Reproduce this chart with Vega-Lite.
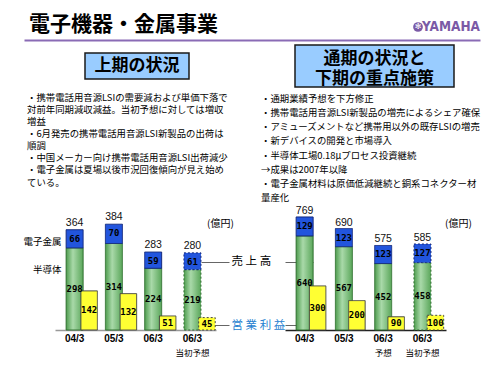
{
  "$schema": "https://vega.github.io/schema/vega-lite/v6.json",
  "background": "white",
  "padding": {"left": 22, "top": 0, "right": 0, "bottom": 0},
  "spacing": 0,
  "config": {
    "view": {"stroke": null},
    "text": {"font": "Noto Sans CJK JP"},
    "axis": {"labelFont": "Noto Sans CJK JP", "grid": false}
  },
  "datasets": {
    "h1": [
      {"period": "04/3", "kind": "実績", "semi": 298, "metal": 66, "total": 364, "profit": 142},
      {"period": "05/3", "kind": "実績", "semi": 314, "metal": 70, "total": 384, "profit": 132},
      {"period": "06/3", "kind": "実績", "semi": 224, "metal": 59, "total": 283, "profit": 51},
      {"period": "06/3当初予想", "kind": "当初予想", "semi": 219, "metal": 61, "total": 280, "profit": 45}
    ],
    "fy": [
      {"period": "04/3", "kind": "実績", "semi": 640, "metal": 129, "total": 769, "profit": 300},
      {"period": "05/3", "kind": "実績", "semi": 567, "metal": 123, "total": 690, "profit": 200},
      {"period": "06/3予想", "kind": "予想", "semi": 452, "metal": 123, "total": 575, "profit": 90},
      {"period": "06/3当初予想", "kind": "当初予想", "semi": 458, "metal": 127, "total": 585, "profit": 100}
    ],
    "bullets": [
      {"block": "L", "line": 1, "text": "・携帯電話用音源LSIの需要減および単価下落で"},
      {"block": "L", "line": 2, "text": "　対前年同期減収減益。当初予想に対しては増収"},
      {"block": "L", "line": 3, "text": "　増益"},
      {"block": "L", "line": 4, "text": "・6月発売の携帯電話用音源LSI新製品の出荷は"},
      {"block": "L", "line": 5, "text": "　順調"},
      {"block": "L", "line": 6, "text": "・中国メーカー向け携帯電話用音源LSI出荷減少"},
      {"block": "L", "line": 7, "text": "・電子金属は夏場以後市況回復傾向が見え始め"},
      {"block": "L", "line": 8, "text": "　ている。"},
      {"block": "R", "line": 1, "text": "・通期業績予想を下方修正"},
      {"block": "R", "line": 2, "text": "・携帯電話用音源LSI新製品の増売によるシェア確保"},
      {"block": "R", "line": 3, "text": "・アミューズメントなど携帯用以外の既存LSIの増売"},
      {"block": "R", "line": 4, "text": "・新デバイスの開発と市場導入"},
      {"block": "R", "line": 5, "text": "・半導体工場0.18μプロセス投資継続"},
      {"block": "R", "line": 6, "text": "　→成果は2007年以降"},
      {"block": "R", "line": 7, "text": "・電子金属材料は原価低減継続と銅系コネクター材"},
      {"block": "R", "line": 8, "text": "　量産化"}
    ]
  },
  "vconcat": [
    {
      "width": 456,
      "height": 40,
      "layer": [
        {
          "data": {"values": [{"name": "電子機器・金属事業"}]},
          "mark": {"type": "text", "align": "left", "baseline": "middle", "dx": 5, "dy": 5, "fontSize": 21, "fontWeight": "bold", "font": "Noto Sans CJK JP", "color": "#000"},
          "encoding": {
            "x": {"datum": 0, "type": "quantitative", "scale": {"domain": [0, 1], "nice": false, "zero": false},
                  "axis": {"orient": "bottom", "title": null, "labels": false, "ticks": false, "grid": false, "domain": true, "domainColor": "#8a6bb5", "domainWidth": 2}},
            "text": {"field": "name"}
          }
        },
        {
          "data": {"values": [{"name": "YAMAHA"}]},
          "mark": {"type": "text", "align": "right", "baseline": "middle", "dy": 7, "fontSize": 13.5, "fontWeight": "bold", "font": "Liberation Sans Narrow, DejaVu Sans Condensed, sans-serif", "color": "#7b5aa6"},
          "encoding": {"x": {"datum": 1, "type": "quantitative"}, "text": {"field": "name"}}
        },
        {
          "data": {"values": [{"name": "logo"}]},
          "mark": {"type": "point", "shape": "circle", "filled": true, "size": 95, "color": "#7b5aa6", "opacity": 1, "xOffset": -62, "yOffset": 7},
          "encoding": {"x": {"datum": 1, "type": "quantitative"}}
        },
        {
          "data": {"values": [{"name": "✻"}]},
          "mark": {"type": "text", "align": "center", "baseline": "middle", "dx": -62, "dy": 7, "fontSize": 8, "font": "DejaVu Sans", "color": "#ffffff"},
          "encoding": {"x": {"datum": 1, "type": "quantitative"}, "text": {"field": "name"}}
        }
      ]
    },
    {
      "hconcat": [
        {"width": 61, "height": 52, "data": {"values": []}, "mark": "point"},
        {
          "width": 104, "height": 26,
          "view": {"fill": "#99ccff", "stroke": "#1a1a1a", "strokeWidth": 1.5},
          "data": {"values": [{"t": "上期の状況"}]},
          "mark": {"type": "text", "align": "center", "baseline": "middle", "fontSize": 17, "fontWeight": "bold", "font": "Noto Sans CJK JP", "color": "#000"},
          "encoding": {"text": {"field": "t"}}
        },
        {"width": 106, "height": 26, "data": {"values": []}, "mark": "point"},
        {
          "width": 159, "height": 42,
          "view": {"fill": "#99ccff", "stroke": "#1a1a1a", "strokeWidth": 1.5},
          "data": {"values": [{"t": "通期の状況と\n下期の重点施策"}]},
          "mark": {"type": "text", "align": "center", "baseline": "middle", "dy": -7, "fontSize": 17, "fontWeight": "bold", "font": "Noto Sans CJK JP", "color": "#000", "lineBreak": "\n", "lineHeight": 20},
          "encoding": {"text": {"field": "t"}}
        }
      ],
      "spacing": 0,
      "bounds": "flush",
      "center": true
    },
    {
      "width": 234,
      "height": 109,
      "data": {"name": "bullets"},
      "layer": [
        {
          "transform": [{"filter": "datum.block === 'L'"}],
          "mark": {"type": "text", "align": "left", "baseline": "middle", "dx": 3, "fontSize": 9.4, "font": "Noto Sans CJK JP", "color": "#000"},
          "encoding": {
            "x": {"field": "block", "type": "nominal", "scale": {"type": "point", "domain": ["L", "R"], "padding": 0}, "axis": null},
            "y": {"field": "line", "type": "ordinal", "scale": {"type": "point", "padding": 1.096, "align": 0.154}, "axis": null},
            "text": {"field": "text"}
          }
        },
        {
          "transform": [{"filter": "datum.block === 'R'"}],
          "mark": {"type": "text", "align": "left", "baseline": "middle", "dx": 3, "fontSize": 9.4, "font": "Noto Sans CJK JP", "color": "#000"},
          "encoding": {
            "x": {"field": "block", "type": "nominal", "scale": {"type": "point", "domain": ["L", "R"], "padding": 0}, "axis": null},
            "y": {"field": "line", "type": "ordinal", "scale": {"type": "point", "padding": 0.355, "align": 0.5}, "axis": null},
            "text": {"field": "text"}
          }
        }
      ],
      "resolve": {"scale": {"y": "independent"}}
    },
    {
      "hconcat": [
        {"width": 31, "height": 127, "data": {"values": []}, "mark": "point"},
        {
          "width": 161, "height": 127,
          "data": {"name": "h1"},
          "layer": [
            {
              "layer": [
                {
                  "mark": {"type": "bar", "width": 17, "stroke": "#2f6f2f", "strokeWidth": 1,
                           "fill": {"gradient": "linear", "x1": 0, "y1": 0, "x2": 1, "y2": 0, "stops": [{"offset": 0, "color": "#4e9c4e"}, {"offset": 0.4, "color": "#a9d9a9"}, {"offset": 1, "color": "#5aa65a"}]}},
                  "encoding": {
                    "x": {"field": "period", "type": "nominal", "sort": null,
                          "scale": {"domain": ["04/3", "05/3", "06/3", "06/3当初予想"], "paddingInner": 0, "paddingOuter": 0.05, "align": 0},
                          "axis": {"orient": "bottom", "title": null, "labelExpr": "substring(datum.label, 0, 4)", "labelFont": "Liberation Sans", "labelFontWeight": "bold", "labelFontSize": 10, "labelColor": "#000", "labelPadding": 3, "labelAngle": 0, "ticks": false, "domain": true, "domainColor": "#999", "domainWidth": 1.5, "grid": false}},
                    "y": {"field": "semi", "type": "quantitative", "scale": {"domain": [0, 461], "nice": false},
                          "axis": {"orient": "left", "title": null, "values": [323, 221], "labelExpr": "datum.value > 300 ? '電子金属' : '半導体'", "ticks": false, "domain": false, "grid": false, "labelPadding": -6, "labelFont": "Noto Sans CJK JP", "labelFontSize": 9.5, "labelColor": "#000"}},
                    "strokeDash": {"condition": {"test": "datum.kind === '当初予想'", "value": [2, 2]}, "value": [1, 0]}
                  }
                },
                {
                  "mark": {"type": "bar", "width": 17, "fill": "#2255dd", "stroke": "#14287a", "strokeWidth": 1},
                  "encoding": {
                    "x": {"field": "period", "type": "nominal", "sort": null},
                    "y": {"field": "total", "type": "quantitative", "scale": {"domain": [0, 461], "nice": false}},
                    "y2": {"field": "semi"},
                    "strokeDash": {"condition": {"test": "datum.kind === '当初予想'", "value": [2, 2]}, "value": [1, 0]}
                  }
                },
                {
                  "mark": {"type": "text", "baseline": "bottom", "dy": -2, "font": "Liberation Sans", "fontSize": 10.5, "color": "#111"},
                  "encoding": {
                    "x": {"field": "period", "type": "nominal", "sort": null},
                    "y": {"field": "total", "type": "quantitative"},
                    "text": {"field": "total"}
                  }
                },
                {
                  "mark": {"type": "text", "baseline": "middle", "dy": 9, "font": "DejaVu Sans Mono", "fontWeight": "bold", "fontSize": 9, "color": "#000"},
                  "encoding": {
                    "x": {"field": "period", "type": "nominal", "sort": null},
                    "y": {"field": "total", "type": "quantitative"},
                    "text": {"field": "metal"}
                  }
                },
                {
                  "data": {"values": [{"unit": "(億円)"}]},
                  "mark": {"type": "text", "baseline": "middle", "align": "center", "dx": 28, "font": "Noto Sans CJK JP", "fontSize": 10, "color": "#000"},
                  "encoding": {
                    "x": {"datum": "06/3当初予想", "type": "nominal"},
                    "y": {"datum": 385, "type": "quantitative"},
                    "text": {"field": "unit"}
                  }
                }
              ]
            },
            {
              "layer": [
                {
                  "mark": {"type": "bar", "width": 16.5, "xOffset": 14.5, "fill": "#ffff33", "stroke": "#444", "strokeWidth": 1},
                  "encoding": {
                    "x": {"field": "period", "type": "nominal", "sort": null,
                          "axis": {"orient": "bottom", "title": null, "labelExpr": "substring(datum.label, 4)", "labelFont": "Noto Sans CJK JP", "labelFontSize": 8.5, "labelColor": "#000", "labelPadding": 18, "labelAngle": 0, "ticks": false, "domain": false, "grid": false}},
                    "y": {"field": "profit", "type": "quantitative", "scale": {"domain": [0, 461], "nice": false},
                          "axis": {"orient": "right", "title": null, "values": [247, 18], "offset": -15, "domain": false, "ticks": true, "tickSize": 28, "tickColor": "#666", "tickWidth": 1, "grid": false, "labelPadding": 2,
                                   "labelExpr": "datum.value > 100 ? '売 上 高' : '営 業 利 益'",
                                   "labelColor": {"condition": {"test": "datum.value < 100", "value": "#1f7fd0"}, "value": "#000"},
                                   "labelFont": "Noto Sans CJK JP", "labelFontSize": 11.5}},
                    "strokeDash": {"condition": {"test": "datum.kind === '当初予想'", "value": [2, 2]}, "value": [1, 0]}
                  }
                }
              ]
            },
            {
              "layer": [
                {
                  "mark": {"type": "text", "baseline": "middle", "font": "DejaVu Sans Mono", "fontWeight": "bold", "fontSize": 9, "color": "#000"},
                  "encoding": {
                    "x": {"field": "period", "type": "nominal", "sort": null, "axis": null},
                    "y": {"field": "semi", "type": "quantitative", "scale": {"domain": [0, 922], "nice": false}, "axis": null},
                    "text": {"field": "semi"}
                  }
                },
                {
                  "mark": {"type": "text", "baseline": "middle", "dx": 14.5, "font": "DejaVu Sans Mono", "fontWeight": "bold", "fontSize": 9, "color": "#000"},
                  "encoding": {
                    "x": {"field": "period", "type": "nominal", "sort": null},
                    "y": {"field": "profit", "type": "quantitative"},
                    "text": {"field": "profit"}
                  }
                }
              ]
            }
          ],
          "resolve": {"scale": {"y": "independent"}, "axis": {"x": "independent", "y": "independent"}}
        },
        {"width": 69, "height": 127, "data": {"values": []}, "mark": "point"},
        {
          "width": 161, "height": 127,
          "data": {"name": "fy"},
          "layer": [
            {
              "layer": [
                {
                  "mark": {"type": "bar", "width": 17, "stroke": "#2f6f2f", "strokeWidth": 1,
                           "fill": {"gradient": "linear", "x1": 0, "y1": 0, "x2": 1, "y2": 0, "stops": [{"offset": 0, "color": "#4e9c4e"}, {"offset": 0.4, "color": "#a9d9a9"}, {"offset": 1, "color": "#5aa65a"}]}},
                  "encoding": {
                    "x": {"field": "period", "type": "nominal", "sort": null,
                          "scale": {"domain": ["04/3", "05/3", "06/3予想", "06/3当初予想"], "paddingInner": 0, "paddingOuter": 0.05, "align": 0},
                          "axis": {"orient": "bottom", "title": null, "labelExpr": "substring(datum.label, 0, 4)", "labelFont": "Liberation Sans", "labelFontWeight": "bold", "labelFontSize": 10, "labelColor": "#000", "labelPadding": 3, "labelAngle": 0, "ticks": false, "domain": true, "domainColor": "#222", "domainWidth": 1.5, "grid": false}},
                    "y": {"field": "semi", "type": "quantitative", "scale": {"domain": [0, 864], "nice": false},
                          "axis": {"orient": "left", "title": null, "values": [463, 34], "labels": false, "domain": false, "ticks": true, "tickSize": 28, "offset": -28, "tickColor": "#666", "tickWidth": 1, "grid": false}},
                    "strokeDash": {"condition": {"test": "datum.kind === '当初予想'", "value": [2, 2]}, "value": [1, 0]}
                  }
                },
                {
                  "mark": {"type": "bar", "width": 17, "fill": "#2255dd", "stroke": "#14287a", "strokeWidth": 1},
                  "encoding": {
                    "x": {"field": "period", "type": "nominal", "sort": null},
                    "y": {"field": "total", "type": "quantitative", "scale": {"domain": [0, 864], "nice": false}},
                    "y2": {"field": "semi"},
                    "strokeDash": {"condition": {"test": "datum.kind === '当初予想'", "value": [2, 2]}, "value": [1, 0]}
                  }
                },
                {
                  "mark": {"type": "text", "baseline": "bottom", "dy": -1, "font": "Liberation Sans", "fontSize": 10.5, "color": "#111"},
                  "encoding": {
                    "x": {"field": "period", "type": "nominal", "sort": null},
                    "y": {"field": "total", "type": "quantitative"},
                    "text": {"field": "total"}
                  }
                },
                {
                  "mark": {"type": "text", "baseline": "middle", "dy": 9, "font": "DejaVu Sans Mono", "fontWeight": "bold", "fontSize": 9, "color": "#000"},
                  "encoding": {
                    "x": {"field": "period", "type": "nominal", "sort": null},
                    "y": {"field": "total", "type": "quantitative"},
                    "text": {"field": "metal"}
                  }
                },
                {
                  "data": {"values": [{"unit": "(億円)"}]},
                  "mark": {"type": "text", "baseline": "middle", "align": "center", "dx": 36, "font": "Noto Sans CJK JP", "fontSize": 10, "color": "#000"},
                  "encoding": {
                    "x": {"datum": "06/3当初予想", "type": "nominal"},
                    "y": {"datum": 721, "type": "quantitative"},
                    "text": {"field": "unit"}
                  }
                }
              ]
            },
            {
              "layer": [
                {
                  "mark": {"type": "bar", "width": 16.5, "xOffset": 13, "fill": "#ffff33", "stroke": "#444", "strokeWidth": 1},
                  "encoding": {
                    "x": {"field": "period", "type": "nominal", "sort": null,
                          "axis": {"orient": "bottom", "title": null, "labelExpr": "substring(datum.label, 4)", "labelFont": "Noto Sans CJK JP", "labelFontSize": 8.5, "labelColor": "#000", "labelPadding": 18, "labelAngle": 0, "ticks": false, "domain": false, "grid": false}},
                    "y": {"field": "profit", "type": "quantitative", "scale": {"domain": [0, 864], "nice": false}, "axis": null},
                    "strokeDash": {"condition": {"test": "datum.kind === '当初予想'", "value": [2, 2]}, "value": [1, 0]}
                  }
                }
              ]
            },
            {
              "layer": [
                {
                  "mark": {"type": "text", "baseline": "middle", "font": "DejaVu Sans Mono", "fontWeight": "bold", "fontSize": 9, "color": "#000"},
                  "encoding": {
                    "x": {"field": "period", "type": "nominal", "sort": null, "axis": null},
                    "y": {"field": "semi", "type": "quantitative", "scale": {"domain": [0, 1728], "nice": false}, "axis": null},
                    "text": {"field": "semi"}
                  }
                },
                {
                  "mark": {"type": "text", "baseline": "middle", "dx": 13, "font": "DejaVu Sans Mono", "fontWeight": "bold", "fontSize": 9, "color": "#000"},
                  "encoding": {
                    "x": {"field": "period", "type": "nominal", "sort": null},
                    "y": {"field": "profit", "type": "quantitative"},
                    "text": {"field": "profit"}
                  }
                }
              ]
            }
          ],
          "resolve": {"scale": {"y": "independent"}, "axis": {"x": "independent", "y": "independent"}}
        }
      ],
      "spacing": 0,
      "bounds": "flush"
    }
  ]
}
